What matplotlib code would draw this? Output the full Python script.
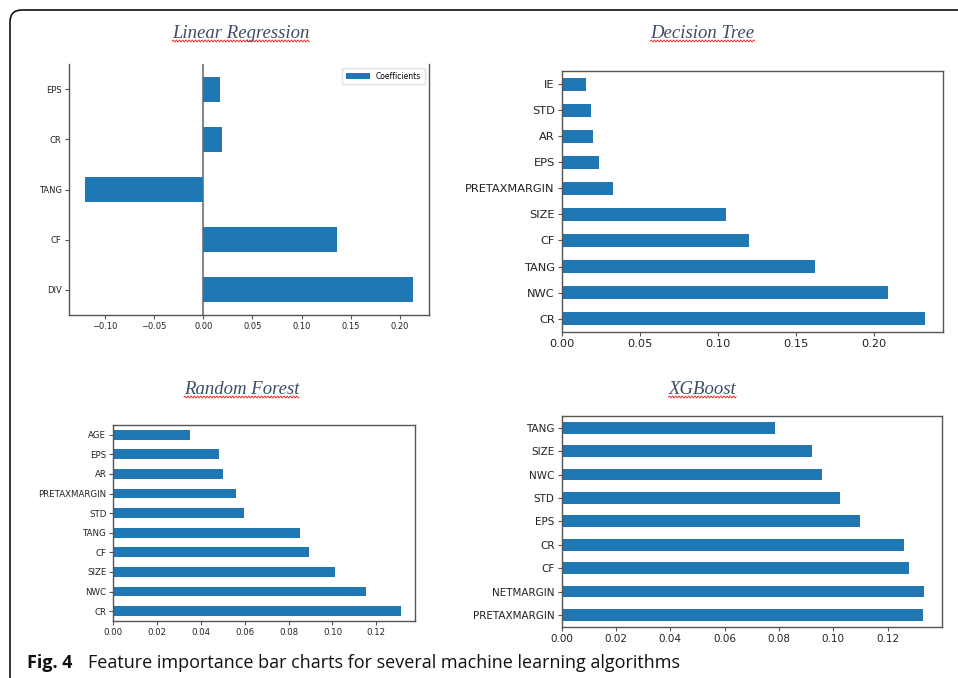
import numpy as np
import matplotlib
matplotlib.use("Agg")
import matplotlib.pyplot as plt
from matplotlib import ticker
from matplotlib.patches import FancyBboxPatch
from matplotlib.transforms import IdentityTransform
from matplotlib.lines import Line2D

# --- data ---
lr_features = ["DIV", "CF", "TANG", "CR", "EPS"]
lr_coefs = [0.2127, 0.1364, -0.120, 0.0186, 0.0175]

dt_features = ["CR", "NWC", "TANG", "CF", "SIZE", "PRETAXMARGIN", "EPS", "AR", "STD", "IE"]
dt_importance = [0.2325, 0.209, 0.1624, 0.120, 0.1055, 0.0332, 0.0237, 0.0201, 0.0186, 0.0156]

rf_features = ["CR", "NWC", "SIZE", "CF", "TANG", "STD", "PRETAXMARGIN", "AR", "EPS", "AGE"]
rf_importance = [0.1311, 0.1154, 0.1011, 0.0892, 0.0854, 0.0595, 0.0558, 0.050, 0.048, 0.0352]

xgb_features = ["PRETAXMARGIN", "NETMARGIN", "CF", "CR", "EPS", "STD", "NWC", "SIZE", "TANG"]
xgb_importance = [0.1332, 0.1333, 0.1279, 0.1262, 0.1099, 0.1024, 0.096, 0.0923, 0.0784]

titles = ["Linear Regression", "Decision Tree", "Random Forest", "XGBoost"]

BLUE = "#1f77b4"
SPINE = "#555555"
TITLE_C = "#3e4d66"

fig = plt.figure(figsize=(9.58, 6.78), dpi=100)


def fmt(v, pos):
    return ("%.2f" % v).replace("-", "\u2212")


def barh_panel(rect, labels, values, fs, step):
    ax = fig.add_axes(rect)
    y = np.arange(len(labels))
    ax.barh(y, values, height=0.5, color=BLUE, label="Coefficients")
    ax.set_yticks(y, labels)
    ax.set_ylim(-0.5, len(labels) - 0.5)
    ax.margins(x=0.05)
    ax.xaxis.set_major_locator(ticker.MultipleLocator(step))
    ax.xaxis.set_major_formatter(ticker.FuncFormatter(fmt))
    ax.tick_params(labelsize=fs, color=SPINE, length=3, width=0.8, pad=2, labelcolor="#222222")
    for s in ax.spines.values():
        s.set_color(SPINE)
        s.set_linewidth(1.0)
    return ax


# Linear Regression
ax1 = barh_panel([0.0717, 0.5354, 0.3761, 0.3702], lr_features, lr_coefs, 6, 0.05)
ax1.spines["top"].set_visible(False)
ax1.axvline(0, color="#888888", lw=1.5, zorder=0)
ax1.legend(loc="upper right", fontsize=5.5, frameon=True, fancybox=True,
           edgecolor="#dddddd", handlelength=3.2, borderpad=0.5)

# Decision Tree
ax2 = barh_panel([0.5863, 0.5108, 0.3977, 0.3845], dt_features, dt_importance, 8.2, 0.05)

# Random Forest
ax3 = barh_panel([0.1183, 0.0841, 0.3149, 0.2891], rf_features, rf_importance, 6.2, 0.02)

# XGBoost
ax4 = barh_panel([0.5863, 0.0757, 0.3967, 0.3107], xgb_features, xgb_importance, 7.5, 0.02)

# panel titles (serif italic, as pasted from a word processor)
title_pos = [(0.2516, 0.9499), (0.7333, 0.9499), (0.2523, 0.4248), (0.7333, 0.4248)]
title_txt = []
for t, (x, y) in zip(titles, title_pos):
    title_txt.append(fig.text(x, y, t, ha="center", va="center", fontsize=13.5,
                              family="Liberation Serif", style="italic", color=TITLE_C))

# frame around the figure (rounded top-left corner)
frame = FancyBboxPatch((10, -60), 1100, 728, boxstyle="round,pad=0,rounding_size=12",
                       transform=IdentityTransform(), fill=False, ec="#111111", lw=1.2)
fig.patches.append(frame)

# caption
fig.text(27 / 958, 1 - 663 / 678, "Fig. 4", ha="left", va="center", fontsize=13,
         family="Open Sans", weight="bold", color="#111111")
fig.text(88 / 958, 1 - 663 / 678,
         "Feature importance bar charts for several machine learning algorithms",
         ha="left", va="center", fontsize=13, family="Open Sans", color="#111111")

# red spell-check squiggle under the titles
fig.canvas.draw()
r = fig.canvas.get_renderer()
for t in title_txt:
    bb = t.get_window_extent(r)
    xs = np.arange(bb.x0, bb.x1, 0.5)
    ys = bb.y0 + 1.5 + 1.0 * np.sin((xs - bb.x0) * np.pi / 1.6)
    fig.lines.append(Line2D(xs, ys, transform=IdentityTransform(), color="#e02020", lw=0.6))

fig.savefig("out.png", dpi=100)
